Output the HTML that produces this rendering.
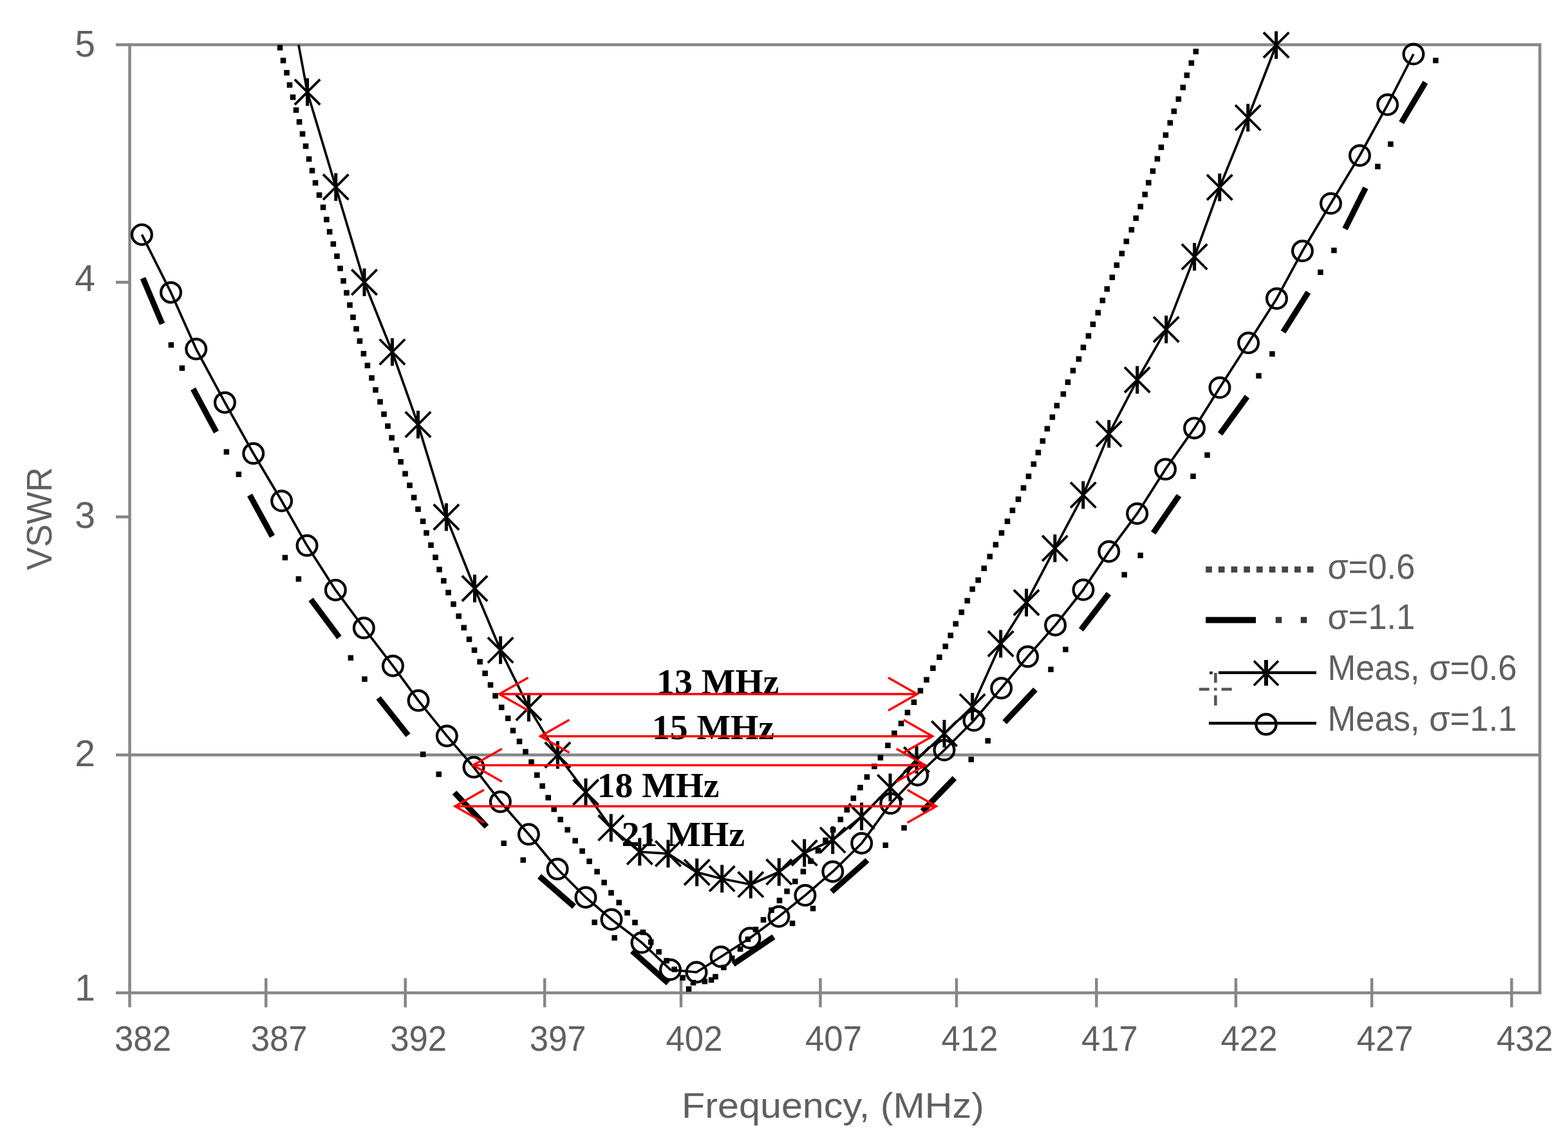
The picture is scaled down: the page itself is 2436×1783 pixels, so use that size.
<!DOCTYPE html>
<html><head><meta charset="utf-8"><title>VSWR vs Frequency</title>
<style>html,body{margin:0;padding:0;background:#fff;}body{width:2436px;height:1783px;overflow:hidden;}svg{display:block;}.s{font-family:"Liberation Sans",Arial,sans-serif;fill:#606060;}.b{font-family:"Liberation Serif","Times New Roman",serif;font-weight:bold;fill:#000;}</style></head><body>
<svg width="2436" height="1783" viewBox="0 0 2436 1783">
<rect x="0" y="0" width="2436" height="1783" fill="#fff"/>
<defs><clipPath id="pa"><rect x="201.5" y="69.6" width="2190.8" height="1472.4"/></clipPath></defs>
<g stroke="#868686" stroke-width="4.5" fill="none" stroke-linecap="butt">
<path d="M180,69.6 H2392.3 V1542" stroke-linejoin="miter"/>
<path d="M201.5,67.3 V1564.5"/>
<path d="M180,1542 H2394.6"/>
<path d="M180,1172.4 H2392.3"/>
<path d="M180,802.8 H201.5"/>
<path d="M180,438.4 H201.5"/>
<path d="M413.2,1519.3 V1564.5"/>
<path d="M629.7,1519.3 V1564.5"/>
<path d="M846.2,1519.3 V1564.5"/>
<path d="M1058,1519.3 V1564.5"/>
<path d="M1274.5,1519.3 V1564.5"/>
<path d="M1486,1519.3 V1564.5"/>
<path d="M1703.4,1519.3 V1564.5"/>
<path d="M1920,1519.3 V1564.5"/>
<path d="M2131.2,1519.3 V1564.5"/>
<path d="M2348.4,1519.3 V1564.5"/>
</g>
<g fill="#000">
<rect x="430.7" y="69.7" width="8.6" height="8.6"/>
<rect x="435.7" y="89.7" width="8.6" height="8.6"/>
<rect x="441.2" y="108.7" width="8.6" height="8.6"/>
<rect x="445.7" y="127.7" width="8.6" height="8.6"/>
<rect x="450.7" y="146.7" width="8.6" height="8.6"/>
<rect x="455.7" y="166.7" width="8.6" height="8.6"/>
<rect x="460.7" y="185.1" width="8.6" height="8.6"/>
<rect x="465.7" y="203.7" width="8.6" height="8.6"/>
<rect x="470.7" y="222.7" width="8.6" height="8.6"/>
<rect x="475.7" y="242.7" width="8.6" height="8.6"/>
<rect x="480.7" y="260.7" width="8.6" height="8.6"/>
<rect x="485.7" y="279.7" width="8.6" height="8.6"/>
<rect x="491.7" y="298.7" width="8.6" height="8.6"/>
<rect x="497.7" y="317.7" width="8.6" height="8.6"/>
<rect x="503" y="336.7" width="8.6" height="8.6"/>
<rect x="507.8" y="355.7" width="8.6" height="8.6"/>
<rect x="513.5" y="374.7" width="8.6" height="8.6"/>
<rect x="519.2" y="393.6" width="8.6" height="8.6"/>
<rect x="524.2" y="412.6" width="8.6" height="8.6"/>
<rect x="529.2" y="432" width="8.6" height="8.6"/>
<rect x="534.2" y="450.5" width="8.6" height="8.6"/>
<rect x="539.2" y="469.5" width="8.6" height="8.6"/>
<rect x="544.2" y="488.5" width="8.6" height="8.6"/>
<rect x="549.2" y="506.5" width="8.6" height="8.6"/>
<rect x="554.6" y="525.4" width="8.6" height="8.6"/>
<rect x="560.6" y="545" width="8.6" height="8.6"/>
<rect x="566.6" y="563.4" width="8.6" height="8.6"/>
<rect x="573.2" y="582.7" width="8.6" height="8.6"/>
<rect x="579.2" y="601.3" width="8.6" height="8.6"/>
<rect x="586.2" y="619.8" width="8.6" height="8.6"/>
<rect x="592.2" y="639" width="8.6" height="8.6"/>
<rect x="598.2" y="657.5" width="8.6" height="8.6"/>
<rect x="604.3" y="675.7" width="8.6" height="8.6"/>
<rect x="611.3" y="694.6" width="8.6" height="8.6"/>
<rect x="618.3" y="713" width="8.6" height="8.6"/>
<rect x="625.2" y="731.5" width="8.6" height="8.6"/>
<rect x="632.2" y="749.5" width="8.6" height="8.6"/>
<rect x="638.8" y="768.5" width="8.6" height="8.6"/>
<rect x="645.2" y="786.5" width="8.6" height="8.6"/>
<rect x="652.8" y="805.4" width="8.6" height="8.6"/>
<rect x="658.2" y="823.4" width="8.6" height="8.6"/>
<rect x="665.2" y="842.4" width="8.6" height="8.6"/>
<rect x="672.2" y="861.4" width="8.6" height="8.6"/>
<rect x="678.2" y="880.3" width="8.6" height="8.6"/>
<rect x="685" y="897.8" width="8.6" height="8.6"/>
<rect x="692.2" y="916" width="8.6" height="8.6"/>
<rect x="700.2" y="934" width="8.6" height="8.6"/>
<rect x="708.4" y="952.7" width="8.6" height="8.6"/>
<rect x="716.4" y="970.6" width="8.6" height="8.6"/>
<rect x="724.7" y="988.6" width="8.6" height="8.6"/>
<rect x="732.7" y="1005.5" width="8.6" height="8.6"/>
<rect x="741.3" y="1023.5" width="8.6" height="8.6"/>
<rect x="749.3" y="1041.5" width="8.6" height="8.6"/>
<rect x="757.7" y="1059.5" width="8.6" height="8.6"/>
<rect x="765.3" y="1076.4" width="8.6" height="8.6"/>
<rect x="774.9" y="1094.4" width="8.6" height="8.6"/>
<rect x="784.9" y="1111.4" width="8.6" height="8.6"/>
<rect x="792.7" y="1130.4" width="8.6" height="8.6"/>
<rect x="802.7" y="1147.3" width="8.6" height="8.6"/>
<rect x="812.2" y="1163.3" width="8.6" height="8.6"/>
<rect x="821.2" y="1179.3" width="8.6" height="8.6"/>
<rect x="830" y="1199.5" width="8.6" height="8.6"/>
<rect x="838.3" y="1216.5" width="8.6" height="8.6"/>
<rect x="847.4" y="1234.6" width="8.6" height="8.6"/>
<rect x="856.4" y="1252.6" width="8.6" height="8.6"/>
<rect x="866.4" y="1268.6" width="8.6" height="8.6"/>
<rect x="877.4" y="1284.5" width="8.6" height="8.6"/>
<rect x="889.4" y="1301.5" width="8.6" height="8.6"/>
<rect x="900.3" y="1317.5" width="8.6" height="8.6"/>
<rect x="911.3" y="1333.5" width="8.6" height="8.6"/>
<rect x="923.3" y="1349.5" width="8.6" height="8.6"/>
<rect x="934.3" y="1366.4" width="8.6" height="8.6"/>
<rect x="945.2" y="1382.4" width="8.6" height="8.6"/>
<rect x="957.4" y="1397.5" width="8.6" height="8.6"/>
<rect x="970.2" y="1413.4" width="8.6" height="8.6"/>
<rect x="982.2" y="1428.5" width="8.6" height="8.6"/>
<rect x="994.6" y="1443.7" width="8.6" height="8.6"/>
<rect x="1006.9" y="1458.9" width="8.6" height="8.6"/>
<rect x="1019.3" y="1474.1" width="8.6" height="8.6"/>
<rect x="1031.3" y="1487.8" width="8.6" height="8.6"/>
<rect x="1043.4" y="1501.4" width="8.6" height="8.6"/>
<rect x="1056.3" y="1514.3" width="8.6" height="8.6"/>
<rect x="1072.7" y="1521.9" width="8.6" height="8.6"/>
<rect x="1090.5" y="1519.9" width="8.6" height="8.6"/>
<rect x="1107.2" y="1512.7" width="8.6" height="8.6"/>
<rect x="1120.1" y="1498.3" width="8.6" height="8.6"/>
<rect x="1132.9" y="1484" width="8.6" height="8.6"/>
<rect x="1145.8" y="1469.6" width="8.6" height="8.6"/>
<rect x="1157.7" y="1454.5" width="8.6" height="8.6"/>
<rect x="1169.7" y="1439.4" width="8.6" height="8.6"/>
<rect x="1181.7" y="1424.3" width="8.6" height="8.6"/>
<rect x="1194.2" y="1409.3" width="8.6" height="8.6"/>
<rect x="1206.7" y="1394.3" width="8.6" height="8.6"/>
<rect x="1218.3" y="1380" width="8.6" height="8.6"/>
<rect x="1231" y="1364.7" width="8.6" height="8.6"/>
<rect x="1243.6" y="1349.4" width="8.6" height="8.6"/>
<rect x="1255.2" y="1333.2" width="8.6" height="8.6"/>
<rect x="1266.7" y="1317" width="8.6" height="8.6"/>
<rect x="1278.3" y="1300.8" width="8.6" height="8.6"/>
<rect x="1289.9" y="1284.7" width="8.6" height="8.6"/>
<rect x="1301.5" y="1268.5" width="8.6" height="8.6"/>
<rect x="1311.5" y="1253.5" width="8.6" height="8.6"/>
<rect x="1321.5" y="1235.5" width="8.6" height="8.6"/>
<rect x="1332.1" y="1218.9" width="8.6" height="8.6"/>
<rect x="1342.6" y="1202.5" width="8.6" height="8.6"/>
<rect x="1354.1" y="1186" width="8.6" height="8.6"/>
<rect x="1363.6" y="1172.5" width="8.6" height="8.6"/>
<rect x="1375.1" y="1153.5" width="8.6" height="8.6"/>
<rect x="1385.1" y="1134.6" width="8.6" height="8.6"/>
<rect x="1395.7" y="1119.4" width="8.6" height="8.6"/>
<rect x="1405.6" y="1102.4" width="8.6" height="8.6"/>
<rect x="1415.6" y="1086.4" width="8.6" height="8.6"/>
<rect x="1425.6" y="1068.5" width="8.6" height="8.6"/>
<rect x="1435.1" y="1051.5" width="8.6" height="8.6"/>
<rect x="1445.1" y="1033.5" width="8.6" height="8.6"/>
<rect x="1455.1" y="1016.5" width="8.6" height="8.6"/>
<rect x="1464.5" y="999.6" width="8.6" height="8.6"/>
<rect x="1472.5" y="982.6" width="8.6" height="8.6"/>
<rect x="1480.5" y="964.6" width="8.6" height="8.6"/>
<rect x="1489.5" y="946.6" width="8.6" height="8.6"/>
<rect x="1498.5" y="928.7" width="8.6" height="8.6"/>
<rect x="1506.4" y="910.7" width="8.6" height="8.6"/>
<rect x="1515.4" y="896.7" width="8.6" height="8.6"/>
<rect x="1524.5" y="878.4" width="8.6" height="8.6"/>
<rect x="1533.5" y="860" width="8.6" height="8.6"/>
<rect x="1542.6" y="841.7" width="8.6" height="8.6"/>
<rect x="1551.7" y="823.4" width="8.6" height="8.6"/>
<rect x="1560.7" y="805.4" width="8.6" height="8.6"/>
<rect x="1568.7" y="788.4" width="8.6" height="8.6"/>
<rect x="1577.7" y="771.1" width="8.6" height="8.6"/>
<rect x="1585.7" y="753.5" width="8.6" height="8.6"/>
<rect x="1593.7" y="735.5" width="8.6" height="8.6"/>
<rect x="1601.6" y="716.5" width="8.6" height="8.6"/>
<rect x="1608.6" y="698.6" width="8.6" height="8.6"/>
<rect x="1615.6" y="680.6" width="8.6" height="8.6"/>
<rect x="1622.6" y="661.6" width="8.6" height="8.6"/>
<rect x="1630.6" y="643.6" width="8.6" height="8.6"/>
<rect x="1637.6" y="625.7" width="8.6" height="8.6"/>
<rect x="1647.6" y="607.7" width="8.6" height="8.6"/>
<rect x="1654.7" y="589.3" width="8.6" height="8.6"/>
<rect x="1662.7" y="571.3" width="8.6" height="8.6"/>
<rect x="1671.7" y="553.3" width="8.6" height="8.6"/>
<rect x="1678.7" y="535.3" width="8.6" height="8.6"/>
<rect x="1686.7" y="517.4" width="8.6" height="8.6"/>
<rect x="1693.7" y="499.4" width="8.6" height="8.6"/>
<rect x="1701.6" y="481.4" width="8.6" height="8.6"/>
<rect x="1708.6" y="462.4" width="8.6" height="8.6"/>
<rect x="1715.6" y="444.5" width="8.6" height="8.6"/>
<rect x="1723.6" y="426.5" width="8.6" height="8.6"/>
<rect x="1730.6" y="407.5" width="8.6" height="8.6"/>
<rect x="1738.6" y="389.5" width="8.6" height="8.6"/>
<rect x="1745.6" y="370.6" width="8.6" height="8.6"/>
<rect x="1753.6" y="352.6" width="8.6" height="8.6"/>
<rect x="1760.5" y="334.6" width="8.6" height="8.6"/>
<rect x="1767.5" y="316.6" width="8.6" height="8.6"/>
<rect x="1774.5" y="297.7" width="8.6" height="8.6"/>
<rect x="1780.1" y="279.5" width="8.6" height="8.6"/>
<rect x="1786.7" y="261.4" width="8.6" height="8.6"/>
<rect x="1793.7" y="242.4" width="8.6" height="8.6"/>
<rect x="1799.7" y="224.5" width="8.6" height="8.6"/>
<rect x="1806.7" y="205.5" width="8.6" height="8.6"/>
<rect x="1813.6" y="186.5" width="8.6" height="8.6"/>
<rect x="1819.6" y="168.5" width="8.6" height="8.6"/>
<rect x="1826.6" y="149.6" width="8.6" height="8.6"/>
<rect x="1833.6" y="131.6" width="8.6" height="8.6"/>
<rect x="1839.6" y="112.6" width="8.6" height="8.6"/>
<rect x="1846.6" y="93.6" width="8.6" height="8.6"/>
<rect x="1853.6" y="75.7" width="8.6" height="8.6"/>
</g>
<g stroke="#000" stroke-width="9" stroke-linecap="butt" fill="none">
<line x1="222" y1="432" x2="252" y2="503"/>
<line x1="300" y1="604" x2="336" y2="671"/>
<line x1="388" y1="769" x2="423" y2="833"/>
<line x1="483" y1="931" x2="527" y2="990"/>
<line x1="588" y1="1084" x2="634" y2="1142"/>
<line x1="706" y1="1231" x2="756" y2="1284"/>
<line x1="838" y1="1361" x2="892" y2="1408"/>
<line x1="982" y1="1477" x2="1038" y2="1527"/>
<line x1="1139" y1="1497.6" x2="1202" y2="1455"/>
<line x1="1292" y1="1385" x2="1347.5" y2="1336"/>
<line x1="1433" y1="1260" x2="1483" y2="1208.5"/>
<line x1="1560.7" y1="1121.7" x2="1608.6" y2="1070.8"/>
<line x1="1679.5" y1="977.9" x2="1722.5" y2="922"/>
<line x1="1791.7" y1="827.7" x2="1831.6" y2="769.8"/>
<line x1="1895.5" y1="673.9" x2="1937.5" y2="616"/>
<line x1="1993.5" y1="515.7" x2="2032.5" y2="453.8"/>
<line x1="2089.6" y1="355.6" x2="2121.5" y2="291.7"/>
<line x1="2177.2" y1="190.5" x2="2214.5" y2="127.9"/>
</g>
<g fill="#000">
<rect x="261.6" y="531.5" width="8.5" height="8.5"/>
<rect x="278.6" y="567.5" width="8.5" height="8.5"/>
<rect x="347.6" y="697.6" width="8.5" height="8.5"/>
<rect x="366.6" y="732.5" width="8.5" height="8.5"/>
<rect x="438.6" y="861.8" width="8.5" height="8.5"/>
<rect x="459.6" y="895" width="8.5" height="8.5"/>
<rect x="540.6" y="1017.5" width="8.5" height="8.5"/>
<rect x="562.2" y="1050.5" width="8.5" height="8.5"/>
<rect x="652.9" y="1167.3" width="8.5" height="8.5"/>
<rect x="677.5" y="1198.3" width="8.5" height="8.5"/>
<rect x="778.5" y="1305.5" width="8.5" height="8.5"/>
<rect x="808.5" y="1331.5" width="8.5" height="8.5"/>
<rect x="919.4" y="1428.3" width="8.5" height="8.5"/>
<rect x="950.4" y="1452.3" width="8.5" height="8.5"/>
<rect x="1065.8" y="1531.8" width="8.5" height="8.5"/>
<rect x="1100.8" y="1517.8" width="8.5" height="8.5"/>
<rect x="1226.8" y="1429.8" width="8.5" height="8.5"/>
<rect x="1258.8" y="1406.8" width="8.5" height="8.5"/>
<rect x="1371.5" y="1308.5" width="8.5" height="8.5"/>
<rect x="1400.3" y="1281.5" width="8.5" height="8.5"/>
<rect x="1504.5" y="1175.3" width="8.5" height="8.5"/>
<rect x="1530.5" y="1146.3" width="8.5" height="8.5"/>
<rect x="1628.3" y="1035.5" width="8.5" height="8.5"/>
<rect x="1651.2" y="1004.5" width="8.5" height="8.5"/>
<rect x="1742.5" y="888.4" width="8.5" height="8.5"/>
<rect x="1767.5" y="858.4" width="8.5" height="8.5"/>
<rect x="1849.3" y="735.5" width="8.5" height="8.5"/>
<rect x="1871.3" y="702.5" width="8.5" height="8.5"/>
<rect x="1951.3" y="579.4" width="8.5" height="8.5"/>
<rect x="1972.2" y="545.4" width="8.5" height="8.5"/>
<rect x="2047.2" y="418.6" width="8.5" height="8.5"/>
<rect x="2068.2" y="384.6" width="8.5" height="8.5"/>
<rect x="2136.2" y="254.4" width="8.5" height="8.5"/>
<rect x="2156.2" y="219.6" width="8.5" height="8.5"/>
<rect x="2226.2" y="89.7" width="8.5" height="8.5"/>
</g>
<g fill="none" stroke="#000" stroke-width="3.7" stroke-linejoin="round">
<polyline clip-path="url(#pa)" points="463.9,69.6 477.5,143 521.7,290.5 566,438.4 609.4,546.7 649.5,659.4 693.4,803.1 737.5,914 777.6,1009.8 821.5,1099.1 866.4,1172.6 910,1230.5 949.3,1285.8 993.8,1323 1038,1325.9 1082.7,1354.9 1121.7,1364.8 1166.3,1373.8 1210.3,1354.3 1249.7,1324.8 1293.7,1304.8 1338.6,1268 1383,1223 1424,1180 1467,1139.5 1510.7,1097.7 1554.7,999.9 1594.6,935.9 1638.9,851.6 1682.8,768.8 1722.8,673.9 1766.8,590 1811.8,511.7 1855.7,398.8 1894.8,291 1938.8,182.8 1982.7,70"/>
<polyline points="220.4,364.4 265.5,454.2 304.7,542.1 349.4,625.2 393.7,704.3 437.6,778 477,847.3 521.3,916.4 565.3,975.3 610.4,1034.2 650,1088.1 694.3,1143.1 736,1191.6 777.4,1245.3 821.4,1295.8 866.1,1349.8 910,1393.7 950,1428 997,1464 1041.5,1506 1082,1510 1120,1486 1165,1457 1210,1423.5 1250.9,1390.6 1293.8,1353.7 1338.7,1309.7 1383.7,1247.8 1425.6,1203.9 1467,1165 1513,1119 1555.7,1068.8 1596.6,1019.8 1639.6,970.9 1683,916 1722.8,856.6 1766.7,797.7 1810.6,728.8 1855.6,664.9 1895,602 1939.6,532.6 1983.5,463.7 2023.5,389.8 2067.5,316 2112.5,241.5 2155.7,162.6 2196,84"/>
</g>
<g fill="none" stroke="#000" stroke-width="4.2">
<circle cx="220.4" cy="364.4" r="15.4"/>
<circle cx="265.5" cy="454.2" r="15.4"/>
<circle cx="304.7" cy="542.1" r="15.4"/>
<circle cx="349.4" cy="625.2" r="15.4"/>
<circle cx="393.7" cy="704.3" r="15.4"/>
<circle cx="437.6" cy="778" r="15.4"/>
<circle cx="477" cy="847.3" r="15.4"/>
<circle cx="521.3" cy="916.4" r="15.4"/>
<circle cx="565.3" cy="975.3" r="15.4"/>
<circle cx="610.4" cy="1034.2" r="15.4"/>
<circle cx="650" cy="1088.1" r="15.4"/>
<circle cx="694.3" cy="1143.1" r="15.4"/>
<circle cx="736" cy="1191.6" r="15.4"/>
<circle cx="777.4" cy="1245.3" r="15.4"/>
<circle cx="821.4" cy="1295.8" r="15.4"/>
<circle cx="866.1" cy="1349.8" r="15.4"/>
<circle cx="910" cy="1393.7" r="15.4"/>
<circle cx="950" cy="1428" r="15.4"/>
<circle cx="997" cy="1464" r="15.4"/>
<circle cx="1041.5" cy="1506" r="15.4"/>
<circle cx="1082" cy="1510" r="15.4"/>
<circle cx="1120" cy="1486" r="15.4"/>
<circle cx="1165" cy="1457" r="15.4"/>
<circle cx="1210" cy="1423.5" r="15.4"/>
<circle cx="1250.9" cy="1390.6" r="15.4"/>
<circle cx="1293.8" cy="1353.7" r="15.4"/>
<circle cx="1338.7" cy="1309.7" r="15.4"/>
<circle cx="1383.7" cy="1247.8" r="15.4"/>
<circle cx="1425.6" cy="1203.9" r="15.4"/>
<circle cx="1467" cy="1165" r="15.4"/>
<circle cx="1513" cy="1119" r="15.4"/>
<circle cx="1555.7" cy="1068.8" r="15.4"/>
<circle cx="1596.6" cy="1019.8" r="15.4"/>
<circle cx="1639.6" cy="970.9" r="15.4"/>
<circle cx="1683" cy="916" r="15.4"/>
<circle cx="1722.8" cy="856.6" r="15.4"/>
<circle cx="1766.7" cy="797.7" r="15.4"/>
<circle cx="1810.6" cy="728.8" r="15.4"/>
<circle cx="1855.6" cy="664.9" r="15.4"/>
<circle cx="1895" cy="602" r="15.4"/>
<circle cx="1939.6" cy="532.6" r="15.4"/>
<circle cx="1983.5" cy="463.7" r="15.4"/>
<circle cx="2023.5" cy="389.8" r="15.4"/>
<circle cx="2067.5" cy="316" r="15.4"/>
<circle cx="2112.5" cy="241.5" r="15.4"/>
<circle cx="2155.7" cy="162.6" r="15.4"/>
<circle cx="2196" cy="84" r="15.4"/>
</g>
<g fill="none" stroke="#000" stroke-linecap="butt">
<path stroke-width="3.8" d="M457.8,123.3 l39.4,39.4 M457.8,162.7 l39.4,-39.4"/>
<path stroke-width="5" d="M477.5,121.5 v43"/>
<path stroke-width="3.8" d="M502,270.8 l39.4,39.4 M502,310.2 l39.4,-39.4"/>
<path stroke-width="5" d="M521.7,269 v43"/>
<path stroke-width="3.8" d="M546.3,418.7 l39.4,39.4 M546.3,458.1 l39.4,-39.4"/>
<path stroke-width="5" d="M566,416.9 v43"/>
<path stroke-width="3.8" d="M589.7,527 l39.4,39.4 M589.7,566.4 l39.4,-39.4"/>
<path stroke-width="5" d="M609.4,525.2 v43"/>
<path stroke-width="3.8" d="M629.8,639.7 l39.4,39.4 M629.8,679.1 l39.4,-39.4"/>
<path stroke-width="5" d="M649.5,637.9 v43"/>
<path stroke-width="3.8" d="M673.7,783.4 l39.4,39.4 M673.7,822.8 l39.4,-39.4"/>
<path stroke-width="5" d="M693.4,781.6 v43"/>
<path stroke-width="3.8" d="M717.8,894.3 l39.4,39.4 M717.8,933.7 l39.4,-39.4"/>
<path stroke-width="5" d="M737.5,892.5 v43"/>
<path stroke-width="3.8" d="M757.9,990.1 l39.4,39.4 M757.9,1029.5 l39.4,-39.4"/>
<path stroke-width="5" d="M777.6,988.3 v43"/>
<path stroke-width="3.8" d="M801.8,1079.4 l39.4,39.4 M801.8,1118.8 l39.4,-39.4"/>
<path stroke-width="5" d="M821.5,1077.6 v43"/>
<path stroke-width="3.8" d="M846.7,1152.9 l39.4,39.4 M846.7,1192.3 l39.4,-39.4"/>
<path stroke-width="5" d="M866.4,1151.1 v43"/>
<path stroke-width="3.8" d="M890.3,1210.8 l39.4,39.4 M890.3,1250.2 l39.4,-39.4"/>
<path stroke-width="5" d="M910,1209 v43"/>
<path stroke-width="3.8" d="M929.6,1266.1 l39.4,39.4 M929.6,1305.5 l39.4,-39.4"/>
<path stroke-width="5" d="M949.3,1264.3 v43"/>
<path stroke-width="3.8" d="M974.1,1303.3 l39.4,39.4 M974.1,1342.7 l39.4,-39.4"/>
<path stroke-width="5" d="M993.8,1301.5 v43"/>
<path stroke-width="3.8" d="M1018.3,1306.2 l39.4,39.4 M1018.3,1345.6 l39.4,-39.4"/>
<path stroke-width="5" d="M1038,1304.4 v43"/>
<path stroke-width="3.8" d="M1063,1335.2 l39.4,39.4 M1063,1374.6 l39.4,-39.4"/>
<path stroke-width="5" d="M1082.7,1333.4 v43"/>
<path stroke-width="3.8" d="M1102,1345.1 l39.4,39.4 M1102,1384.5 l39.4,-39.4"/>
<path stroke-width="5" d="M1121.7,1343.3 v43"/>
<path stroke-width="3.8" d="M1146.6,1354.1 l39.4,39.4 M1146.6,1393.5 l39.4,-39.4"/>
<path stroke-width="5" d="M1166.3,1352.3 v43"/>
<path stroke-width="3.8" d="M1190.6,1334.6 l39.4,39.4 M1190.6,1374 l39.4,-39.4"/>
<path stroke-width="5" d="M1210.3,1332.8 v43"/>
<path stroke-width="3.8" d="M1230,1305.1 l39.4,39.4 M1230,1344.5 l39.4,-39.4"/>
<path stroke-width="5" d="M1249.7,1303.3 v43"/>
<path stroke-width="3.8" d="M1274,1285.1 l39.4,39.4 M1274,1324.5 l39.4,-39.4"/>
<path stroke-width="5" d="M1293.7,1283.3 v43"/>
<path stroke-width="3.8" d="M1318.9,1248.3 l39.4,39.4 M1318.9,1287.7 l39.4,-39.4"/>
<path stroke-width="5" d="M1338.6,1246.5 v43"/>
<path stroke-width="3.8" d="M1363.3,1203.3 l39.4,39.4 M1363.3,1242.7 l39.4,-39.4"/>
<path stroke-width="5" d="M1383,1201.5 v43"/>
<path stroke-width="3.8" d="M1404.3,1160.3 l39.4,39.4 M1404.3,1199.7 l39.4,-39.4"/>
<path stroke-width="5" d="M1424,1158.5 v43"/>
<path stroke-width="3.8" d="M1447.3,1119.8 l39.4,39.4 M1447.3,1159.2 l39.4,-39.4"/>
<path stroke-width="5" d="M1467,1118 v43"/>
<path stroke-width="3.8" d="M1491,1078 l39.4,39.4 M1491,1117.4 l39.4,-39.4"/>
<path stroke-width="5" d="M1510.7,1076.2 v43"/>
<path stroke-width="3.8" d="M1535,980.2 l39.4,39.4 M1535,1019.6 l39.4,-39.4"/>
<path stroke-width="5" d="M1554.7,978.4 v43"/>
<path stroke-width="3.8" d="M1574.9,916.2 l39.4,39.4 M1574.9,955.6 l39.4,-39.4"/>
<path stroke-width="5" d="M1594.6,914.4 v43"/>
<path stroke-width="3.8" d="M1619.2,831.9 l39.4,39.4 M1619.2,871.3 l39.4,-39.4"/>
<path stroke-width="5" d="M1638.9,830.1 v43"/>
<path stroke-width="3.8" d="M1663.1,749.1 l39.4,39.4 M1663.1,788.5 l39.4,-39.4"/>
<path stroke-width="5" d="M1682.8,747.3 v43"/>
<path stroke-width="3.8" d="M1703.1,654.2 l39.4,39.4 M1703.1,693.6 l39.4,-39.4"/>
<path stroke-width="5" d="M1722.8,652.4 v43"/>
<path stroke-width="3.8" d="M1747.1,570.3 l39.4,39.4 M1747.1,609.7 l39.4,-39.4"/>
<path stroke-width="5" d="M1766.8,568.5 v43"/>
<path stroke-width="3.8" d="M1792.1,492 l39.4,39.4 M1792.1,531.4 l39.4,-39.4"/>
<path stroke-width="5" d="M1811.8,490.2 v43"/>
<path stroke-width="3.8" d="M1836,379.1 l39.4,39.4 M1836,418.5 l39.4,-39.4"/>
<path stroke-width="5" d="M1855.7,377.3 v43"/>
<path stroke-width="3.8" d="M1875.1,271.3 l39.4,39.4 M1875.1,310.7 l39.4,-39.4"/>
<path stroke-width="5" d="M1894.8,269.5 v43"/>
<path stroke-width="3.8" d="M1919.1,163.1 l39.4,39.4 M1919.1,202.5 l39.4,-39.4"/>
<path stroke-width="5" d="M1938.8,161.3 v43"/>
<path stroke-width="3.8" d="M1963,50.3 l39.4,39.4 M1963,89.7 l39.4,-39.4"/>
<path stroke-width="5" d="M1982.7,48.5 v43"/>
</g>
<text class="b" x="1020.1" y="1076.5" font-size="55" textLength="190.2" lengthAdjust="spacingAndGlyphs">13 MHz</text>
<text class="b" x="1012.9" y="1148.3" font-size="55" textLength="190.2" lengthAdjust="spacingAndGlyphs">15 MHz</text>
<text class="b" x="927.8" y="1238.4" font-size="55" textLength="189.7" lengthAdjust="spacingAndGlyphs">18 MHz</text>
<text class="b" x="965.6" y="1314.1" font-size="55" textLength="191.6" lengthAdjust="spacingAndGlyphs">21 MHz</text>
<g stroke="#f00" stroke-width="3.4" fill="none" stroke-linecap="butt" stroke-linejoin="miter">
<path d="M775.6,1078 H1424.9"/>
<path d="M820.6,1052.5 L775.6,1078 L820.6,1103.5"/>
<path d="M1379.9,1052.5 L1424.9,1078 L1379.9,1103.5"/>
<path d="M839.5,1143.5 H1448.7"/>
<path d="M884.5,1118 L839.5,1143.5 L884.5,1169"/>
<path d="M1403.7,1118 L1448.7,1143.5 L1403.7,1169"/>
<path d="M734.8,1188.5 H1437.7"/>
<path d="M779.8,1163 L734.8,1188.5 L779.8,1214"/>
<path d="M1392.7,1163 L1437.7,1188.5 L1392.7,1214"/>
<path d="M706.9,1252.3 H1454.6"/>
<path d="M751.9,1226.8 L706.9,1252.3 L751.9,1277.8"/>
<path d="M1409.6,1226.8 L1454.6,1252.3 L1409.6,1277.8"/>
</g>
<text class="s" x="148" y="87.8" font-size="57" text-anchor="end">5</text>
<text class="s" x="148" y="451.7" font-size="57" text-anchor="end">4</text>
<text class="s" x="148" y="820.4" font-size="57" text-anchor="end">3</text>
<text class="s" x="148" y="1190.3" font-size="57" text-anchor="end">2</text>
<text class="s" x="148" y="1553.7" font-size="57" text-anchor="end">1</text>
<text class="s" x="222" y="1632.3" font-size="56" text-anchor="middle" textLength="88" lengthAdjust="spacingAndGlyphs">382</text>
<text class="s" x="433.7" y="1632.3" font-size="56" text-anchor="middle" textLength="88" lengthAdjust="spacingAndGlyphs">387</text>
<text class="s" x="650.2" y="1632.3" font-size="56" text-anchor="middle" textLength="88" lengthAdjust="spacingAndGlyphs">392</text>
<text class="s" x="866.7" y="1632.3" font-size="56" text-anchor="middle" textLength="88" lengthAdjust="spacingAndGlyphs">397</text>
<text class="s" x="1078.5" y="1632.3" font-size="56" text-anchor="middle" textLength="88" lengthAdjust="spacingAndGlyphs">402</text>
<text class="s" x="1295" y="1632.3" font-size="56" text-anchor="middle" textLength="88" lengthAdjust="spacingAndGlyphs">407</text>
<text class="s" x="1506.5" y="1632.3" font-size="56" text-anchor="middle" textLength="88" lengthAdjust="spacingAndGlyphs">412</text>
<text class="s" x="1723.9" y="1632.3" font-size="56" text-anchor="middle" textLength="88" lengthAdjust="spacingAndGlyphs">417</text>
<text class="s" x="1940.5" y="1632.3" font-size="56" text-anchor="middle" textLength="88" lengthAdjust="spacingAndGlyphs">422</text>
<text class="s" x="2151.7" y="1632.3" font-size="56" text-anchor="middle" textLength="88" lengthAdjust="spacingAndGlyphs">427</text>
<text class="s" x="2368.9" y="1632.3" font-size="56" text-anchor="middle" textLength="88" lengthAdjust="spacingAndGlyphs">432</text>
<text class="s" x="1059" y="1735.6" font-size="56" textLength="470" lengthAdjust="spacingAndGlyphs">Frequency, (MHz)</text>
<text class="s" transform="translate(80.2,805.4) rotate(-90)" x="0" y="0" font-size="56" text-anchor="middle" textLength="160" lengthAdjust="spacingAndGlyphs">VSWR</text>
<g>
<line x1="1873.2" y1="884.6" x2="2043" y2="884.6" stroke="#444" stroke-width="9.5" stroke-dasharray="9.7 10"/>
<line x1="1873.2" y1="963" x2="1951.1" y2="963" stroke="#000" stroke-width="9.5"/>
<rect x="1981.8" y="958.2" width="9.5" height="9.5" fill="#333"/>
<rect x="2020.8" y="958.2" width="9.5" height="9.5" fill="#333"/>
<line x1="1893" y1="1044.8" x2="2045" y2="1044.8" stroke="#000" stroke-width="4.4"/>
<rect x="1879" y="1042.8" width="5" height="4.4" fill="#333"/>
<path d="M1948,1026.5 l38,38 M1948,1064.5 l38,-38" stroke="#000" stroke-width="3.8" fill="none"/>
<path d="M1967,1025 v40" stroke="#000" stroke-width="6" fill="none"/>
<g stroke="#555" stroke-width="4.6" fill="none"><path d="M1863,1070.5 H1878.7 M1886.1,1070.5 H1890.6 M1897.6,1070.5 H1913.7"/><path d="M1888.4,1045 V1060.5 M1888.4,1080 V1095.7"/></g>
<line x1="1878" y1="1123.2" x2="2045" y2="1123.2" stroke="#000" stroke-width="4.5"/>
<circle cx="1967" cy="1125" r="15.6" stroke="#000" stroke-width="4.2" fill="none"/>
</g>
<text class="s" x="2062.4" y="898.5" font-size="56" textLength="136" lengthAdjust="spacingAndGlyphs">σ=0.6</text>
<text class="s" x="2062.4" y="977.2" font-size="56" textLength="136" lengthAdjust="spacingAndGlyphs">σ=1.1</text>
<text class="s" x="2062.4" y="1056.4" font-size="56" textLength="294.2" lengthAdjust="spacingAndGlyphs">Meas, σ=0.6</text>
<text class="s" x="2062.4" y="1135.3" font-size="56" textLength="294.2" lengthAdjust="spacingAndGlyphs">Meas, σ=1.1</text>
</svg></body></html>
